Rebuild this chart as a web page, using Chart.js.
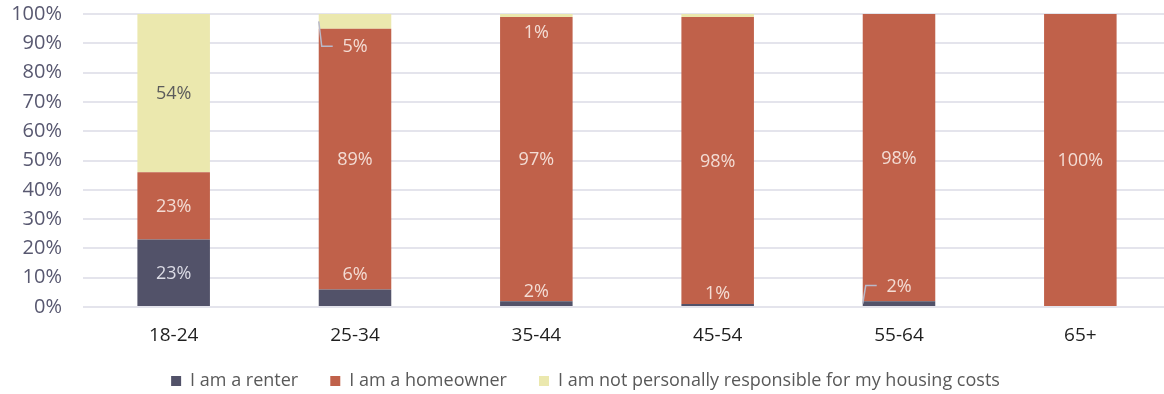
<!DOCTYPE html>
<html>
<head>
<meta charset="utf-8">
<script src="https://cdn.jsdelivr.net/npm/chart.js@4"></script>
<style>
  html, body { margin: 0; padding: 0; background: #fff; overflow: hidden; }
  #wrap { position: relative; width: 1171px; height: 400px; }
</style>
</head>
<body>
<div id="wrap"><canvas id="housingChart"></canvas></div>
<script>
// Chart data
const categories = ['18-24', '25-34', '35-44', '45-54', '55-64', '65+'];
const renter = [23, 6, 2, 1, 2, 0];
const homeowner = [23, 89, 97, 98, 98, 100];
const notResponsible = [54, 5, 1, 1, 0, 0];
const seriesNames = ['I am a renter', 'I am a homeowner', 'I am not personally responsible for my housing costs'];

// Label placement tweaks: [dataset, index, dy, leader]
const labelTweaks = [
    [0, 1, -24, false],
    [0, 2, -13, false],
    [0, 3, -12, false],
    [0, 4, -18, true],
    [2, 1, 25, true],
    [2, 2, 16, false]
];
const hiddenLabels = [[2, 3]];

const FONT = "'Open Sans', sans-serif";

const barLabels = {
    id: 'barLabels',
    afterDatasetsDraw(chart) {
        const ctx = chart.ctx;
        ctx.save();
        ctx.font = '18px ' + FONT;
        ctx.textAlign = 'center';
        ctx.textBaseline = 'middle';
        chart.data.datasets.forEach((ds, di) => {
            const meta = chart.getDatasetMeta(di);
            meta.data.forEach((bar, i) => {
                const v = ds.data[i];
                if (!v) return;
                if (hiddenLabels.some(h => h[0] === di && h[1] === i)) return;
                const tweak = labelTweaks.find(t => t[0] === di && t[1] === i);
                const cy = (bar.y + bar.base) / 2;
                let y = cy;
                if (tweak) y += tweak[2];
                let color = '#f3dcd4';
                if (!tweak && di === 2) color = '#5b5b5b';
                if (!tweak && di === 0) color = '#dcdce6';
                if (tweak && tweak[3]) {
                    const left = bar.x - bar.width / 2;
                    ctx.strokeStyle = '#b9b9c9';
                    ctx.lineWidth = 1.5;
                    ctx.beginPath();
                    ctx.moveTo(left, cy);
                    ctx.lineTo(left + 3, y);
                    ctx.lineTo(left + 14, y);
                    ctx.stroke();
                }
                ctx.fillStyle = color;
                ctx.fillText(v + '%', bar.x, y + 1);
            });
        });
        ctx.restore();
    }
};

new Chart(document.getElementById('housingChart'), {
    type: 'bar',
    data: {
        labels: categories,
        datasets: [
            { label: seriesNames[0], data: renter, backgroundColor: '#525269' },
            { label: seriesNames[1], data: homeowner, backgroundColor: '#c0614a' },
            { label: seriesNames[2], data: notResponsible, backgroundColor: '#ebe8ae' }
        ]
    },
    options: {
        responsive: true,
        maintainAspectRatio: false,
        animation: false,
        datasets: {
            bar: { barPercentage: 0.4, categoryPercentage: 1.0 }
        },
        layout: { padding: { top: 14, left: 0, right: 0, bottom: 0 } },
        plugins: {
            legend: {
                position: 'bottom',
                labels: {
                    boxWidth: 10,
                    boxHeight: 10,
                    padding: 4,
                    color: '#595959',
                    font: { size: 18, family: FONT },
                    generateLabels: function (chart) {
                        // spacing between legend entries
                        const items = Chart.defaults.plugins.legend.labels.generateLabels(chart);
                        items.forEach((item, i) => {
                            if (i < items.length - 1) item.text = item.text + '      ';
                        });
                        return items;
                    }
                }
            },
            tooltip: { enabled: false }
        },
        scales: {
            x: {
                stacked: true,
                afterFit: function (scale) { scale.height = 61; },
                grid: { display: false },
                border: { display: false },
                ticks: {
                    color: '#1f1f1f',
                    padding: 9,
                    font: { size: 19, family: FONT }
                }
            },
            y: {
                stacked: true,
                min: 0,
                max: 100,
                afterFit: function (scale) {
                    scale.width = 83;
                    scale.paddingTop = 0;
                    scale.paddingBottom = 0;
                },
                grid: { color: '#e4e4ec', lineWidth: 2, drawTicks: false },
                border: { display: false },
                ticks: {
                    stepSize: 10,
                    autoSkip: false,
                    padding: 21,
                    color: '#585870',
                    font: { size: 20, family: FONT },
                    callback: function (value) { return value + '%'; }
                }
            }
        }
    },
    plugins: [barLabels]
});
</script>
</body>
</html>
